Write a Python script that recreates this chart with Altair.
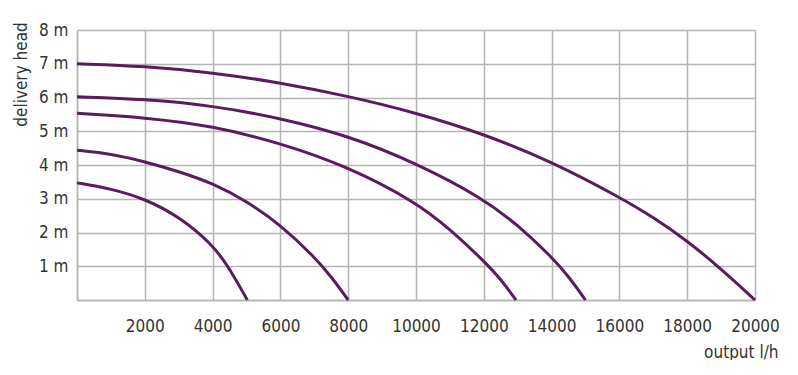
import altair as alt
import pandas as pd

# Pump curves: flow (l/h) vs delivery head (m)
c1_q = [0, 2000, 4000, 6000, 8000, 10000, 12000, 14000, 16000, 17000, 18000, 19000, 20000]
c1_h = [7.0, 6.93, 6.74, 6.44, 6.04, 5.55, 4.92, 4.1, 3.05, 2.45, 1.76, 0.92, 0.0]

c2_q = [0, 2000, 4000, 6000, 8000, 10000, 12000, 13000, 14000, 14500, 15000]
c2_h = [6.02, 5.95, 5.76, 5.39, 4.87, 4.06, 3.0, 2.22, 1.28, 0.7, 0.0]

c3_q = [0, 2000, 4000, 6000, 8000, 10000, 11000, 12000, 12500, 12950]
c3_h = [5.53, 5.41, 5.16, 4.65, 3.95, 2.9, 2.1, 1.16, 0.62, 0.0]

c4_q = [0, 1000, 2000, 3000, 4000, 5000, 6000, 7000, 7500, 8000]
c4_h = [4.44, 4.33, 4.10, 3.81, 3.46, 2.93, 2.23, 1.28, 0.69, 0.0]

c5_q = [0, 1000, 2000, 3000, 4000, 4460, 5025]
c5_h = [3.47, 3.30, 3.0, 2.48, 1.64, 1.0, 0.0]

x_ticks = [0, 2000, 4000, 6000, 8000, 10000, 12000, 14000, 16000, 18000, 20000]
y_ticks = [0, 1, 2, 3, 4, 5, 6, 7, 8]

rows = []
for name, qs, hs in [("c1", c1_q, c1_h), ("c2", c2_q, c2_h), ("c3", c3_q, c3_h),
                     ("c4", c4_q, c4_h), ("c5", c5_q, c5_h)]:
    for q, h in zip(qs, hs):
        rows.append({"series": name, "q": q, "h": h})
df = pd.DataFrame(rows)

FONT = "'DejaVu Sans Condensed', 'DejaVu Sans', sans-serif"
TEXT = "#333333"
GRID = "#b4b4b4"
FS = 17

chart = alt.Chart(df).mark_line(
    interpolate="basis", strokeWidth=3, color="#5b1b5e"
).encode(
    x=alt.X("q:Q", scale=alt.Scale(domain=[0, 20000], nice=False, zero=True),
            axis=alt.Axis(values=x_ticks, labelExpr="datum.value == 0 ? '' : datum.value",
                          format="d", grid=True, gridColor=GRID, gridWidth=1.5,
                          domainColor=GRID, domainWidth=1.5, ticks=False,
                          labelOverlap=False, labelFlush=False, labelBaseline="alphabetic",
                          labelPadding=31, labelFontSize=FS, labelColor=TEXT, labelFont=FONT,
                          title="output l/h", titleFont=FONT, titleFontSize=FS,
                          titleFontWeight="normal", titleColor=TEXT, titleAlign="right",
                          titleX=701, titleY=57, titleBaseline="alphabetic")),
    y=alt.Y("h:Q", scale=alt.Scale(domain=[0, 8], nice=False, zero=True),
            axis=alt.Axis(values=y_ticks, labelExpr="datum.value == 0 ? '' : datum.value + ' m'",
                          grid=True, gridColor=GRID, gridWidth=1.5,
                          domainColor=GRID, domainWidth=1.5, ticks=False,
                          labelOverlap=False, labelFlush=False,
                          labelPadding=9, labelFontSize=FS, labelColor=TEXT, labelFont=FONT,
                          title="delivery head", titleFont=FONT, titleFontSize=FS,
                          titleFontWeight="normal", titleColor=TEXT, titleAngle=-90,
                          titleAlign="center", titleX=-51, titleY=44,
                          titleBaseline="alphabetic")),
    detail="series:N",
    order="q:Q",
).properties(
    width=678, height=270,
    padding={"left": 69, "top": 22, "right": 30, "bottom": 60},
    autosize=alt.AutoSizeParams(type="none"),
    background="white",
).configure_view(strokeWidth=0)

chart.save("out.html", embed_options={"renderer": "svg", "actions": False})
